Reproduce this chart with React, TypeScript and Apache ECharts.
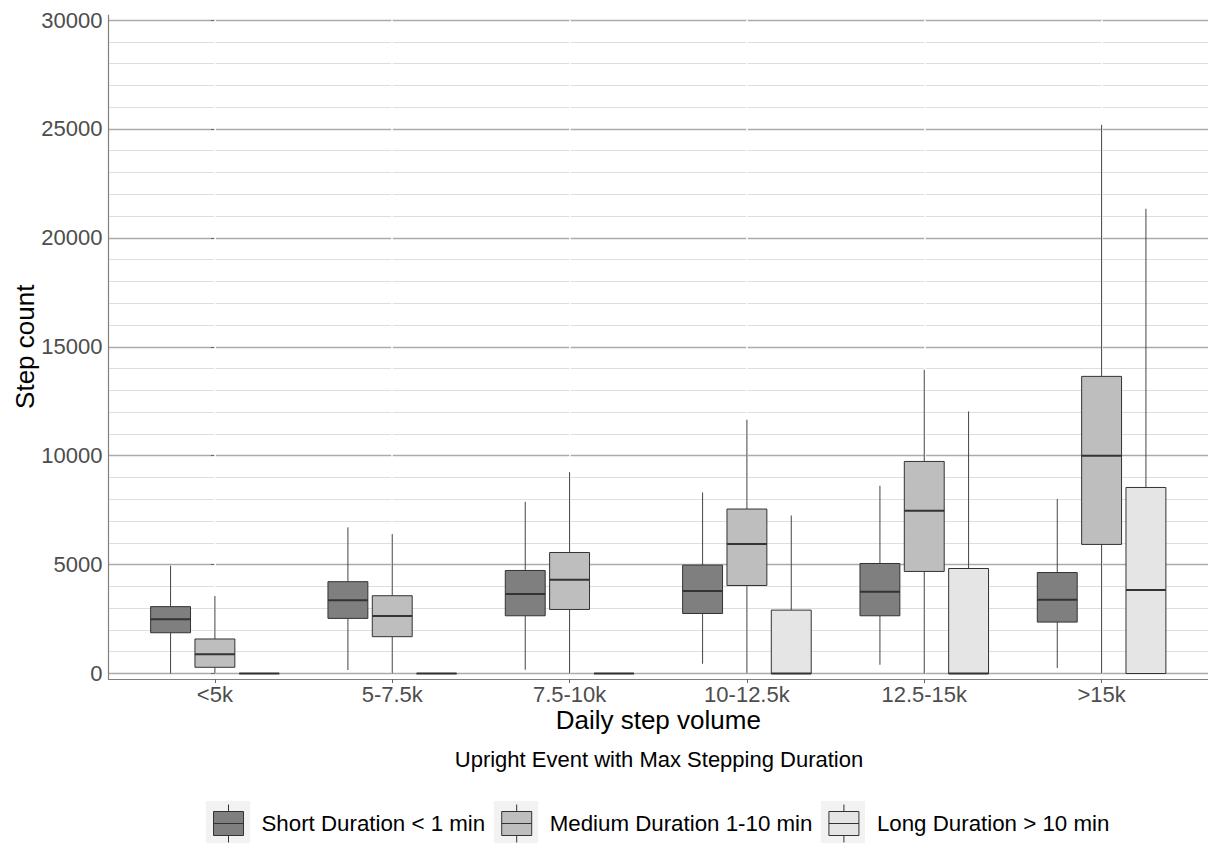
import React, { useEffect, useRef } from "react";
import * as echarts from "echarts";

const categories = ["<5k", "5-7.5k", "7.5-10k", "10-12.5k", "12.5-15k", ">15k"];
const seriesNames = ["Short Duration < 1 min", "Medium Duration 1-10 min", "Long Duration > 10 min"];
// each row: [lower whisker, Q1, median, Q3, upper whisker]
const shortStats = [
  [0, 1870, 2490, 3070, 4950],
  [160, 2530, 3360, 4215, 6710],
  [170, 2650, 3645, 4730, 7880],
  [445, 2755, 3785, 4975, 8310],
  [400, 2650, 3750, 5050, 8620],
  [250, 2360, 3385, 4635, 8005],
];
const mediumStats = [
  [0, 285, 880, 1585, 3560],
  [0, 1690, 2640, 3570, 6400],
  [0, 2940, 4300, 5555, 9245],
  [0, 4040, 5940, 7550, 11650],
  [0, 4685, 7470, 9735, 13940],
  [0, 5925, 10000, 13640, 25190],
];
const longStats = [
  [0, 0, 0, 0, 0],
  [0, 0, 0, 0, 0],
  [0, 0, 0, 0, 0],
  [0, 0, 0, 2910, 7255],
  [0, 0, 0, 4820, 12030],
  [0, 0, 3830, 8540, 21335],
];
const yTickStep = 5000;
const yMax = 30000;

const fills = ["#7f7f7f", "#bebebe", "#e5e5e5"];
const offsets = [-0.25, 0, 0.25];
const FONT = "'Liberation Sans', Arial, sans-serif";

function makeRender(offset: number, fill: string) {
  return (params: any, api: any) => {
    const x = api.value(0) + offset;
    const lo = api.coord([x, api.value(1)]);
    const q1 = api.coord([x, api.value(2)]);
    const med = api.coord([x, api.value(3)]);
    const q3 = api.coord([x, api.value(4)]);
    const hi = api.coord([x, api.value(5)]);
    const w = api.size([0.225, 0])[0];
    const cx = lo[0];
    const whisker = { stroke: "#444", lineWidth: 1 };
    return {
      type: "group",
      children: [
        { type: "line", shape: { x1: cx, y1: hi[1], x2: cx, y2: q3[1] }, style: whisker },
        { type: "line", shape: { x1: cx, y1: q1[1], x2: cx, y2: lo[1] }, style: whisker },
        {
          type: "rect",
          shape: { x: cx - w / 2, y: q3[1], width: w, height: q1[1] - q3[1] },
          style: { fill, stroke: "#333", lineWidth: 1 },
        },
        {
          type: "line",
          shape: { x1: cx - w / 2, y1: med[1], x2: cx + w / 2, y2: med[1] },
          style: { stroke: "#333", lineWidth: 2 },
        },
      ],
    };
  };
}

export default function App() {
  const ref = useRef<HTMLDivElement>(null);
  useEffect(() => {
    if (!ref.current) return;
    const chart = echarts.init(ref.current, null, { renderer: "svg" });
    const allStats = [shortStats, mediumStats, longStats];
    const keyCenters = [228, 516, 843];
    const catIdx = categories.map((_, i) => i);
    const option: any = {
      animation: false,
      backgroundColor: "#ffffff",
      textStyle: { fontFamily: FONT },
      grid: [
        { left: 108.5, top: 20, width: 1101, height: 653.5 },
        { left: 108.5, top: 15, width: 1101, height: 664 },
      ],
      xAxis: [
        {
          type: "value",
          gridIndex: 0,
          min: -0.6,
          max: 5.6,
          axisLine: { show: false },
          axisTick: { show: false, customValues: catIdx },
          axisLabel: { show: false },
          splitLine: { show: true, lineStyle: { color: "#ffffff", width: 1.5 } },
          z: 2,
        },
        {
          type: "value",
          gridIndex: 1,
          min: -0.6,
          max: 5.6,
          axisLine: { show: true, onZero: false, lineStyle: { color: "#808080", width: 1.2 } },
          axisTick: { show: true, length: 4, customValues: catIdx, lineStyle: { color: "#666" } },
          axisLabel: {
            show: true,
            customValues: catIdx,
            margin: 5,
            fontSize: 22,
            lineHeight: 20,
            color: "#4d4d4d",
            fontFamily: FONT,
            formatter: (v: number) => (Number.isInteger(v) ? categories[v] ?? "" : ""),
          },
          splitLine: { show: false },
          name: "Daily step volume",
          nameLocation: "middle",
          nameGap: 28,
          nameMoveOverlap: false,
          nameTextStyle: { fontSize: 26, color: "#000", lineHeight: 26, fontFamily: FONT },
        },
      ],
      yAxis: [
        {
          type: "value",
          gridIndex: 0,
          min: 0,
          max: yMax,
          interval: yTickStep,
          axisLine: { show: false },
          axisTick: { show: true, length: 4, lineStyle: { color: "#666" } },
          axisLabel: {
            margin: 6,
            fontSize: 22,
            color: "#4d4d4d",
            fontFamily: FONT,
            formatter: (v: number) => String(v),
          },
          splitLine: { show: true, lineStyle: { color: "#ababab", width: 1.4 } },
          minorTick: { show: false, splitNumber: 5 },
          minorSplitLine: { show: true, lineStyle: { color: "#dedede", width: 1.2 } },
          name: "Step count",
          nameLocation: "middle",
          nameGap: 71,
          nameMoveOverlap: false,
          nameTextStyle: { fontSize: 26, color: "#000", lineHeight: 26, fontFamily: FONT },
        },
        {
          type: "value",
          gridIndex: 1,
          min: -250,
          max: 30250,
          axisLine: { show: true, onZero: false, lineStyle: { color: "#808080", width: 1.2 } },
          axisTick: { show: false },
          axisLabel: { show: false },
          splitLine: { show: false },
        },
      ],
      legend: {
        left: 213,
        top: 804,
        padding: 0,
        itemWidth: 56,
        itemHeight: 38,
        itemGap: 16,
        selectedMode: false,
        icon: "path://M15,0V7M0,7H30V31H0ZM0,19H30M15,31V38",
        itemStyle: { borderColor: "#333", borderWidth: 1 },
        textStyle: { fontSize: 22.3, color: "#000", fontFamily: FONT },
        data: seriesNames.map((n, i) => ({ name: n, itemStyle: { color: fills[i] } })),
      },
      graphic: [
        ...keyCenters.map((c) => ({
          type: "rect",
          shape: { x: c - 22, y: 801, width: 44, height: 44 },
          style: { fill: "#f2f2f2" },
          z: 0,
        })),
        {
          type: "text",
          x: 659,
          y: 759.5,
          style: {
            text: "Upright Event with Max Stepping Duration",
            align: "center",
            verticalAlign: "middle",
            fontSize: 22,
            fill: "#000",
            fontFamily: FONT,
          },
        },
      ],
      series: seriesNames.map((name, s) => ({
        type: "custom",
        name,
        xAxisIndex: 0,
        yAxisIndex: 0,
        itemStyle: { color: fills[s], borderColor: "#333" },
        renderItem: makeRender(offsets[s], fills[s]),
        encode: { x: 0, y: [1, 2, 3, 4, 5] },
        data: allStats[s].map((row, i) => [i, ...row]),
        z: 3,
      })),
    };
    chart.setOption(option);
    return () => chart.dispose();
  }, []);
  return (
    <div
      ref={ref}
      style={{ position: "absolute", left: 0, top: 0, width: 1208, height: 843, background: "#fff" }}
    />
  );
}
